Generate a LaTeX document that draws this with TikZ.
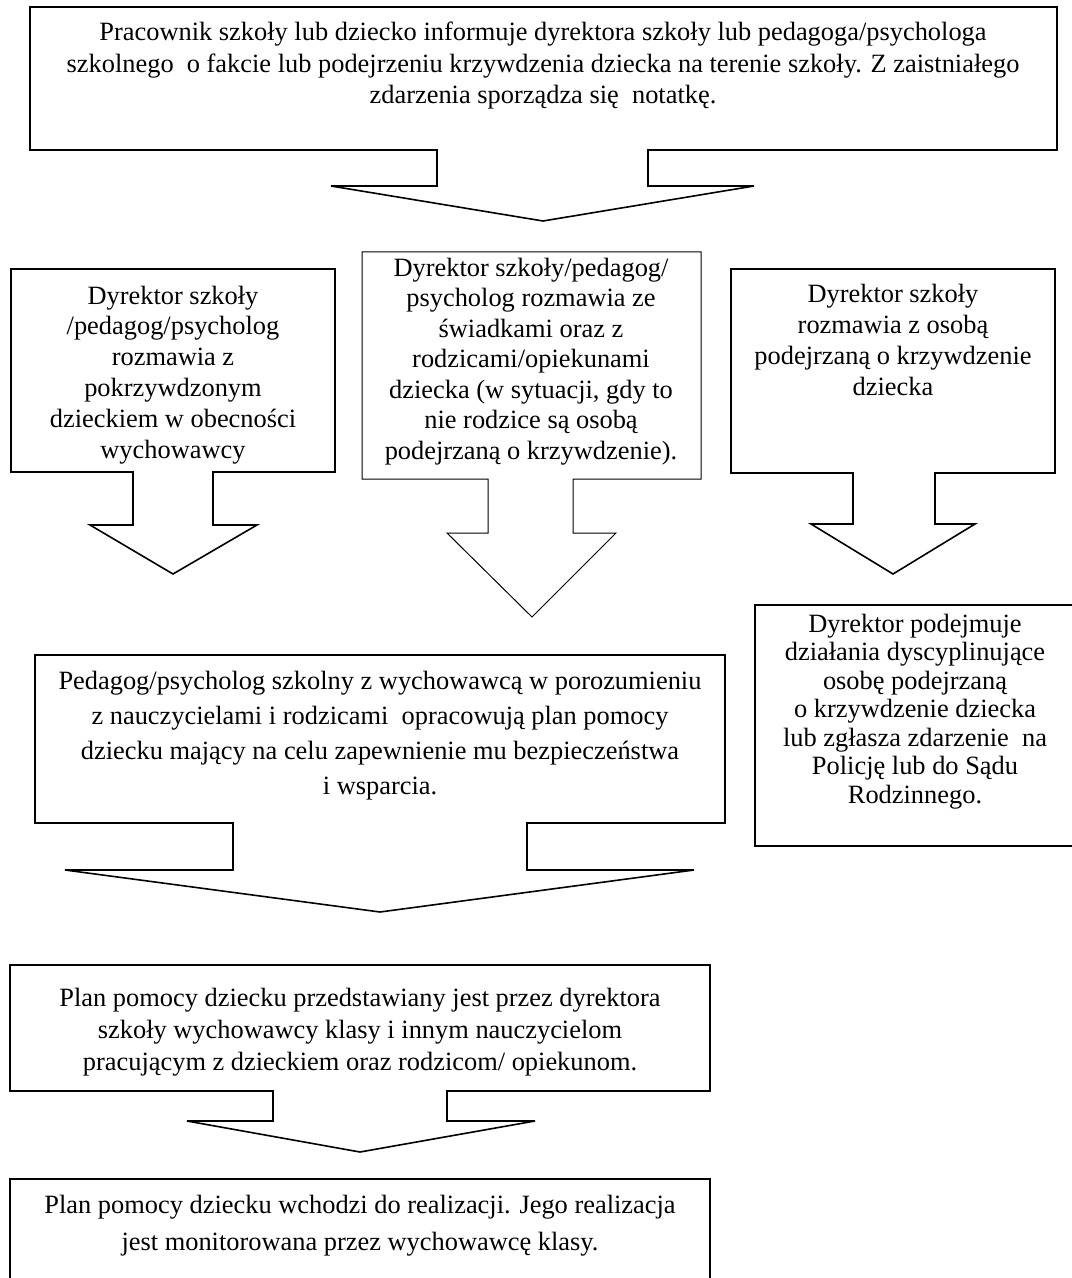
\documentclass[tikz,border=0pt]{standalone}
\usepackage{fontspec}
\setmainfont{Liberation Serif}
\usetikzlibrary{calc}

\begin{document}
\begin{tikzpicture}[x=0.5pt,y=-0.5pt,
    ramka/.style={line width=0.8pt,line join=miter},
    cienka/.style={line width=0.5pt,line join=miter},
    opis/.style={align=center,inner sep=0pt,anchor=base,font=\fontsize{13.2}{#1}\selectfont}]
    \useasboundingbox (0,0) rectangle (1071,1278);
    % ramki ze strzalkami
    \draw[ramka] (30,7) -- (1057,7) -- (1057,150) -- (648,150) -- (648,186) -- (754,186) -- (543,221) -- (331,186) -- (437,186) -- (437,150) -- (30,150) -- cycle;
    \draw[ramka] (11,269) -- (335,269) -- (335,472) -- (213,472) -- (213,525) -- (257,525) -- (173,574) -- (90,525) -- (133,525) -- (133,472) -- (11,472) -- cycle;
    \draw[cienka] (362,252) -- (701,252) -- (701,479) -- (573,479) -- (573,533) -- (616,533) -- (532,617) -- (447,533) -- (488,533) -- (488,479) -- (362,479) -- cycle;
    \draw[ramka] (731,269) -- (1055,269) -- (1055,473) -- (935,473) -- (935,524) -- (975,524) -- (893,574) -- (811,524) -- (853,524) -- (853,473) -- (731,473) -- cycle;
    \draw[ramka] (755,605) rectangle (1075,846);
    \draw[ramka] (35,655) -- (725,655) -- (725,823) -- (527,823) -- (527,870) -- (694,870) -- (380,912) -- (65,870) -- (233,870) -- (233,823) -- (35,823) -- cycle;
    \draw[ramka] (10,965) -- (710,965) -- (710,1091) -- (447,1091) -- (447,1121) -- (535,1121) -- (360,1152) -- (187,1121) -- (273,1121) -- (273,1091) -- (10,1091) -- cycle;
    \draw[ramka] (10,1290) -- (10,1179) -- (710,1179) -- (710,1290);
    % teksty (anchor base = ostatnia linia)
    \node[opis=15.75] (zgl) at (543,104) {Pracownik szkoły lub dziecko informuje dyrektora szkoły lub pedagoga/psychologa\\ szkolnego\ \ o fakcie lub podejrzeniu krzywdzenia dziecka na terenie szkoły. Z zaistniałego\\ zdarzenia sporządza się\ \ notatkę.};
    \node[opis=15.4] (rozm1) at (173,458) {Dyrektor szkoły\\ /pedagog/psycholog\\ rozmawia z\\ pokrzywdzonym\\ dzieckiem w obecności\\ wychowawcy};
    \node[opis=15.25] (rozm2) at (531,459) {Dyrektor szkoły/pedagog/\\ psycholog rozmawia ze\\ świadkami oraz z\\ rodzicami/opiekunami\\ dziecka (w sytuacji, gdy to\\ nie rodzice są osobą\\ podejrzaną o krzywdzenie).};
    \node[opis=15.4] (rozm3) at (893,395) {Dyrektor szkoły\\ rozmawia z osobą\\ podejrzaną o krzywdzenie\\ dziecka};
    \node[opis=14.25] (dysc) at (915,803) {Dyrektor podejmuje\\ działania dyscyplinujące\\ osobę podejrzaną\\ o krzywdzenie dziecka\\ lub zgłasza zdarzenie\ \ na\\ Policję lub do Sądu\\ Rodzinnego.};
    \node[opis=17.5] (plan) at (380,794) {Pedagog/psycholog szkolny z wychowawcą w porozumieniu\\ z nauczycielami i rodzicami\ \ opracowują plan pomocy\\ dziecku mający na celu zapewnienie mu bezpieczeństwa\\ i wsparcia.};
    \node[opis=16] (przeds) at (360,1070) {Plan pomocy dziecku przedstawiany jest przez dyrektora\\ szkoły wychowawcy klasy i innym nauczycielom\\ pracującym z dzieckiem oraz rodzicom/ opiekunom.};
    \node[opis=18.5] (real) at (360,1250) {Plan pomocy dziecku wchodzi do realizacji. Jego realizacja\\ jest monitorowana przez wychowawcę klasy.};
\end{tikzpicture}
\end{document}
